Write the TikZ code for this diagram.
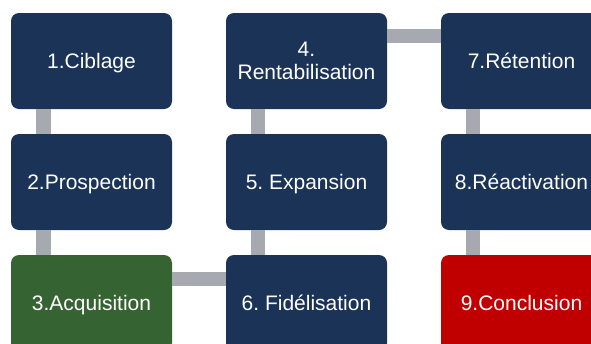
\documentclass[tikz,border=0pt]{standalone}
\usepackage{fontspec}
\setmainfont{Liberation Sans}
\frenchspacing
\definecolor{navy}{RGB}{26,51,87}
\definecolor{leaf}{RGB}{54,99,50}
\definecolor{alert}{RGB}{192,0,0}
\definecolor{link}{RGB}{166,169,176}
\begin{document}
\begin{tikzpicture}[x=1pt,y=-1pt,
  stage/.style={fill=navy, rounded corners=8pt, minimum width=161pt,
    minimum height=96pt, inner sep=0pt, text=white, align=center,
    text depth=0pt, font=\fontsize{21}{23}\selectfont},
  conn/.style={draw=link, line width=14.5pt}]
\useasboundingbox (0,0) rectangle (591,343);
% column 1
\node[stage] (b1) at (91.5,61) {1.Ciblage};
\node[stage] (b2) at (91.5,182) {2.Prospection};
\node[stage, fill=leaf] (b3) at (91.5,303) {3.Acquisition};
% column 2
\node[stage] (b4) at (306.5,61) {4.\\Rentabilisation};
\node[stage] (b5) at (306.5,182) {5. Expansion};
\node[stage] (b6) at (306.5,303) {6. Fidélisation};
% column 3
\node[stage] (b7) at (521.5,61) {7.Rétention};
\node[stage] (b8) at (521.5,182) {8.Réactivation};
\node[stage, fill=alert] (b9) at (521.5,303) {9.Conclusion};
% links between stages
\draw[conn] ([xshift=32.5pt]b1.south west) -- ([xshift=32.5pt]b2.north west);
\draw[conn] ([xshift=32.5pt]b2.south west) -- ([xshift=32.5pt]b3.north west);
\draw[conn] ([yshift=-24pt]b3.north east) -- ([yshift=-24pt]b6.north west);
\draw[conn] ([xshift=32pt]b6.north west) -- ([xshift=32pt]b5.south west);
\draw[conn] ([xshift=32pt]b5.north west) -- ([xshift=32pt]b4.south west);
\draw[conn] ([yshift=-23pt]b4.north east) -- ([yshift=-23pt]b7.north west);
\draw[conn] ([xshift=32pt]b7.south west) -- ([xshift=32pt]b8.north west);
\draw[conn] ([xshift=32pt]b8.south west) -- ([xshift=32pt]b9.north west);
\end{tikzpicture}
\end{document}
